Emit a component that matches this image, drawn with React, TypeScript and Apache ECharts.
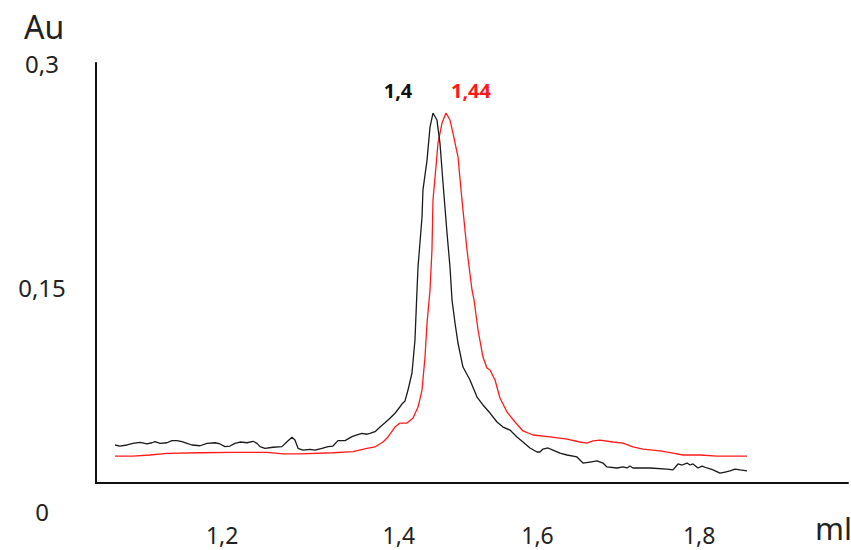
import React, { useEffect, useRef } from "react";
import * as echarts from "echarts";

const blackX = [1.0543,1.0606,1.0696,1.0772,1.0862,1.0951,1.1015,1.1053,1.1117,1.1206,1.1270,1.1334,1.1398,1.1462,1.1525,1.1628,1.1717,1.1819,1.1883,1.1947,1.2011,1.2074,1.2138,1.2228,1.2304,1.2355,1.2394,1.2457,1.2560,1.2674,1.2738,1.2802,1.2840,1.2879,1.2942,1.3032,1.3096,1.3185,1.3262,1.3325,1.3389,1.3479,1.3568,1.3632,1.3696,1.3760,1.3798,1.3862,1.3926,1.3989,1.4053,1.4117,1.4181,1.4206,1.4245,1.4283,1.4334,1.4372,1.4398,1.4411,1.4462,1.4474,1.4526,1.4564,1.4602,1.4653,1.4691,1.4730,1.4781,1.4819,1.4845,1.4883,1.4921,1.4985,1.5074,1.5164,1.5240,1.5330,1.5419,1.5496,1.5585,1.5674,1.5751,1.5840,1.5930,1.5968,1.6006,1.6070,1.6134,1.6223,1.6313,1.6440,1.6517,1.6606,1.6696,1.6772,1.6823,1.6951,1.7028,1.7079,1.7117,1.7155,1.7372,1.7589,1.7666,1.7730,1.7781,1.7845,1.7883,1.7921,1.7985,1.8036,1.8100,1.8177,1.8266,1.8330,1.8394,1.8457,1.8521,1.8611];
const blackY = [0.0442,0.0435,0.0442,0.0453,0.0460,0.0449,0.0457,0.0464,0.0453,0.0457,0.0471,0.0471,0.0464,0.0453,0.0442,0.0437,0.0453,0.0457,0.0449,0.0431,0.0435,0.0453,0.0462,0.0457,0.0467,0.0453,0.0431,0.0420,0.0427,0.0431,0.0464,0.0494,0.0475,0.0420,0.0408,0.0413,0.0408,0.0420,0.0431,0.0435,0.0471,0.0471,0.0498,0.0509,0.0520,0.0514,0.0520,0.0531,0.0562,0.0591,0.0621,0.0654,0.0698,0.0717,0.0737,0.0810,0.0924,0.1145,0.1480,0.1634,0.1969,0.2150,0.2350,0.2571,0.2665,0.2618,0.2464,0.2196,0.1862,0.1634,0.1413,0.1259,0.1125,0.0964,0.0877,0.0763,0.0710,0.0656,0.0596,0.0562,0.0542,0.0496,0.0462,0.0422,0.0395,0.0395,0.0415,0.0422,0.0408,0.0388,0.0375,0.0362,0.0321,0.0328,0.0335,0.0321,0.0295,0.0288,0.0295,0.0288,0.0301,0.0288,0.0288,0.0281,0.0275,0.0315,0.0308,0.0321,0.0308,0.0315,0.0288,0.0301,0.0288,0.0275,0.0254,0.0261,0.0268,0.0281,0.0275,0.0268];

const redX = [1.0543,1.0772,1.0989,1.1206,1.1628,1.2049,1.2483,1.2687,1.2904,1.3325,1.3581,1.3760,1.3862,1.3964,1.4028,1.4117,1.4181,1.4270,1.4347,1.4411,1.4462,1.4500,1.4526,1.4564,1.4589,1.4602,1.4640,1.4666,1.4717,1.4768,1.4819,1.4857,1.4921,1.4972,1.5036,1.5100,1.5126,1.5177,1.5240,1.5291,1.5330,1.5394,1.5457,1.5547,1.5649,1.5751,1.5879,1.6096,1.6313,1.6479,1.6568,1.6645,1.6734,1.6900,1.7028,1.7155,1.7283,1.7500,1.7666,1.7794,1.8011,1.8228,1.8611];
const redY = [0.0368,0.0368,0.0375,0.0386,0.0390,0.0393,0.0393,0.0382,0.0382,0.0390,0.0397,0.0420,0.0429,0.0462,0.0496,0.0562,0.0589,0.0589,0.0623,0.0696,0.0810,0.1031,0.1259,0.1480,0.1748,0.2083,0.2304,0.2464,0.2598,0.2665,0.2618,0.2531,0.2371,0.2083,0.1748,0.1480,0.1413,0.1212,0.1031,0.0958,0.0944,0.0877,0.0757,0.0663,0.0596,0.0536,0.0509,0.0496,0.0482,0.0462,0.0455,0.0469,0.0475,0.0462,0.0455,0.0429,0.0415,0.0402,0.0388,0.0375,0.0375,0.0368,0.0368];

const xTicks = [1.2, 1.4, 1.6, 1.8];
const peakLabels = ["1,4", "1,44"];
const yName = "Au";
const xName = "ml";

const FONT = "Noto Sans";

export default function App() {
  const ref = useRef<HTMLDivElement>(null);
  useEffect(() => {
    if (!ref.current) return;
    const chart = echarts.init(ref.current, undefined, { renderer: "svg" });
    const fmt = (v: number) => (v === 0 ? "0" : String(v).replace(".", ","));
    // the hand-placed tick labels sit slightly off a linear scale
    const xLabelStyle = (v: number) => {
      const i = xTicks.findIndex((t) => Math.abs(t - v) < 1e-9);
      return i >= 0 ? `{s${i}|${fmt(v)}}` : fmt(v);
    };
    const rich = {
      s0: { padding: [0, 14, 0, 0], fontSize: 23, color: "#222", fontFamily: FONT },
      s1: { padding: [0, 0, 0, 26], fontSize: 23, color: "#222", fontFamily: FONT },
      s2: { padding: [0, 10, 0, 0], fontSize: 23, color: "#222", fontFamily: FONT },
      s3: { padding: [0, 0, 0, 0], fontSize: 23, color: "#222", fontFamily: FONT },
    };
    chart.setOption({
      animation: false,
      backgroundColor: "#ffffff",
      textStyle: { fontFamily: FONT },
      grid: [
        { left: 96, right: 3, top: 63, height: 448 },
        { left: 96, right: 3, top: 63, bottom: 67 },
      ],
      xAxis: [
        {
          type: "value",
          gridIndex: 0,
          min: 1.03,
          max: 1.99,
          axisLine: { show: false },
          axisTick: { show: false },
          splitLine: { show: false },
          axisLabel: {
            customValues: xTicks,
            formatter: xLabelStyle,
            rich,
            fontSize: 23,
            color: "#222",
            margin: 12,
            fontFamily: FONT,
          },
        },
        {
          type: "value",
          gridIndex: 1,
          min: 0,
          max: 1,
          axisLine: { show: true, lineStyle: { color: "#111", width: 2 } },
          axisTick: { show: false },
          splitLine: { show: false },
          axisLabel: { show: false },
        },
      ],
      yAxis: [
        {
          type: "value",
          gridIndex: 0,
          min: 0,
          max: 0.3,
          interval: 0.15,
          axisLine: { show: false },
          axisTick: { show: false },
          splitLine: { show: false },
          axisLabel: {
            formatter: fmt,
            fontSize: 24,
            color: "#222",
            align: "center",
            margin: 54,
            fontFamily: FONT,
          },
        },
        {
          type: "value",
          gridIndex: 1,
          min: 0,
          max: 1,
          axisLine: { show: true, lineStyle: { color: "#111", width: 2 } },
          axisTick: { show: false },
          splitLine: { show: false },
          axisLabel: { show: false },
        },
      ],
      series: [
        {
          type: "line",
          xAxisIndex: 0,
          yAxisIndex: 0,
          data: redX.map((x, i) => [x, redY[i]]),
          showSymbol: false,
          symbol: "none",
          lineStyle: { color: "#ff1a1a", width: 1.3 },
          markPoint: {
            symbol: "circle",
            symbolSize: 0,
            data: [{ type: "max" }],
            label: {
              show: true,
              formatter: peakLabels[1],
              color: "#ff1a1a",
              fontWeight: "bold",
              fontSize: 20,
              fontFamily: FONT,
              offset: [25, -23],
            },
          },
          z: 2,
        },
        {
          type: "line",
          xAxisIndex: 0,
          yAxisIndex: 0,
          data: blackX.map((x, i) => [x, blackY[i]]),
          showSymbol: false,
          symbol: "none",
          lineStyle: { color: "#1a1a1a", width: 1.3 },
          markPoint: {
            symbol: "circle",
            symbolSize: 0,
            data: [{ type: "max" }],
            label: {
              show: true,
              formatter: peakLabels[0],
              color: "#111",
              fontWeight: "bold",
              fontSize: 20,
              fontFamily: FONT,
              offset: [-35, -23],
            },
          },
          z: 3,
        },
      ],
      graphic: [
        {
          type: "text",
          left: 24,
          top: 10,
          style: { text: yName, fontSize: 32, fill: "#222", fontFamily: FONT },
        },
        {
          type: "text",
          left: 815,
          top: 512,
          style: { text: xName, fontSize: 31, fill: "#222", fontFamily: FONT },
        },
      ],
    });
    return () => chart.dispose();
  }, []);
  return (
    <div
      ref={ref}
      style={{ position: "fixed", left: 0, top: 0, width: 851, height: 550, background: "#fff" }}
    />
  );
}
